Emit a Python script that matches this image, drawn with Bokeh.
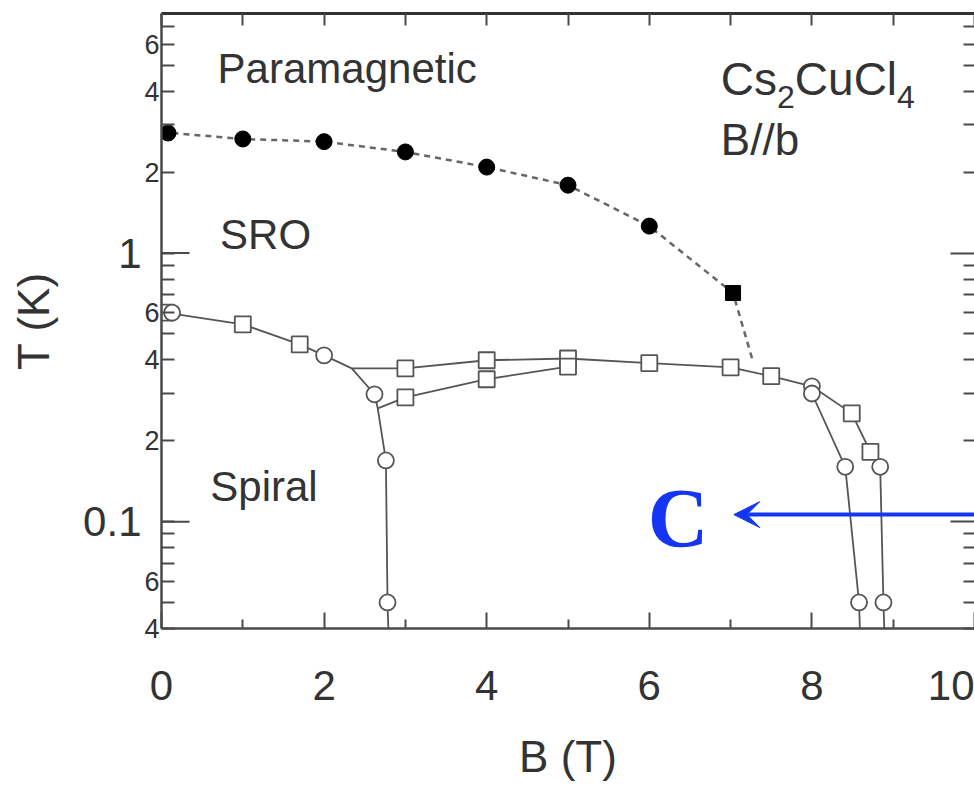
from bokeh.plotting import figure
from bokeh.models import (FixedTicker, LinearAxis, LogAxis, Label,
                          Arrow, VeeHead, Range1d, CustomJSTickFormatter)
from bokeh.embed import file_html
from bokeh.resources import INLINE

# ---------------- data ----------------
# short-range-order crossover (filled circles, filled square) and dotted guide
sro_B = [0.08, 1.0, 2.0, 3.0, 4.0, 5.0, 6.0]
sro_T = [2.80, 2.66, 2.60, 2.38, 2.09, 1.79, 1.26]
sro_sq_B = [7.03]
sro_sq_T = [0.71]
guide_B = [0.0, 1.0, 2.0, 3.0, 4.0, 5.0, 6.0, 7.03, 7.28]
guide_T = [2.82, 2.66, 2.60, 2.38, 2.09, 1.79, 1.26, 0.71, 0.39]

# open squares
sq_B = [0.05, 1.0, 1.70, 3.0, 3.0, 4.0, 4.0, 5.0, 5.0, 6.0, 7.0, 7.5, 8.49, 8.72]
sq_T = [0.60, 0.543, 0.457, 0.372, 0.290, 0.399, 0.339, 0.405, 0.378, 0.389, 0.375, 0.348, 0.253, 0.182]

# open circles
ci_B = [0.13, 2.0, 2.62, 2.76, 2.78, 8.0, 8.0, 8.41, 8.84, 8.58, 8.88]
ci_T = [0.60, 0.416, 0.298, 0.169, 0.050, 0.319, 0.300, 0.160, 0.160, 0.050, 0.050]

# phase-boundary lines
left_B = [0.05, 1.0, 1.70, 2.0, 2.34, 2.62, 2.66, 2.76, 2.78, 2.79]
left_T = [0.60, 0.543, 0.457, 0.416, 0.372, 0.298, 0.264, 0.169, 0.050, 0.04]
upper_B = [2.34, 3.0, 4.0, 5.0, 6.0, 7.0, 7.5, 8.0, 8.49, 8.72, 8.84, 8.88, 8.89]
upper_T = [0.372, 0.372, 0.399, 0.405, 0.389, 0.375, 0.348, 0.319, 0.253, 0.182, 0.160, 0.050, 0.04]
lower_B = [2.66, 3.0, 4.0, 5.0]
lower_T = [0.264, 0.290, 0.339, 0.378]
inner_B = [8.0, 8.41, 8.58, 8.59]
inner_T = [0.300, 0.160, 0.050, 0.04]

# axes
x_lo, x_hi = 0.0, 10.0
y_lo, y_hi = 0.04, 7.8
x_major = [0, 2, 4, 6, 8, 10]
x_minor = [1, 3, 5, 7, 9]
y_decades = [0.1, 1]
y_labeled = [0.04, 0.06, 0.2, 0.4, 0.6, 2, 4, 6]          # labelled with mantissa only
y_unlabeled = [0.05, 0.07, 0.08, 0.09, 0.3, 0.5, 0.7, 0.8, 0.9, 3, 5, 7]
y_minor = sorted(y_labeled + y_unlabeled)

# ---------------- styling ----------------
FONT = "Liberation Sans"
INK = "#333333"
AX = "#4a4a4a"
LINE = "#555555"
BLUE = "#1436f2"
LONG_TICK_B = 0.345   # extra length of decade ticks, in field units (~28 px)

p = figure(width=974, height=789, x_range=Range1d(x_lo, x_hi), y_range=Range1d(y_lo, y_hi),
           y_axis_type="log", output_backend="svg", toolbar_location=None,
           min_border_left=161, min_border_right=0, min_border_top=13, min_border_bottom=161)
p.outline_line_color = None
p.xgrid.grid_line_color = None
p.ygrid.grid_line_color = None
p.background_fill_color = "white"
p.border_fill_color = "white"

# bottom axis
xa = p.xaxis[0]
xa.ticker = FixedTicker(ticks=x_major, minor_ticks=x_minor)
xa.major_tick_in = 16
xa.major_tick_out = 0
xa.minor_tick_in = 9
xa.minor_tick_out = 0
xa.axis_line_width = 2.5
xa.axis_line_color = AX
xa.major_tick_line_color = AX
xa.minor_tick_line_color = AX
xa.major_tick_line_width = 2
xa.minor_tick_line_width = 2
xa.major_label_standoff = 42
xa.major_label_text_font = FONT
xa.major_label_text_font_size = "42px"
xa.major_label_text_color = INK
xa.axis_label = "B (T)"
xa.axis_label_standoff = 29
xa.axis_label_text_font = FONT
xa.axis_label_text_font_size = "44px"
xa.axis_label_text_font_style = "normal"
xa.axis_label_text_color = INK

# inner left axis: line, short ticks, small mantissa labels
ya = p.yaxis[0]
ya.ticker = FixedTicker(ticks=y_labeled, minor_ticks=y_unlabeled + y_decades)
ya.formatter = CustomJSTickFormatter(
    code="const e = Math.floor(Math.log10(tick) + 1e-9); return String(Math.round(tick / Math.pow(10, e)));")
ya.major_tick_in = 13
ya.major_tick_out = 0
ya.minor_tick_in = 13
ya.minor_tick_out = 0
ya.axis_line_width = 2.5
ya.axis_line_color = AX
ya.major_tick_line_color = AX
ya.minor_tick_line_color = AX
ya.major_tick_line_width = 2
ya.minor_tick_line_width = 2
ya.major_label_standoff = 2
ya.major_label_text_font = FONT
ya.major_label_text_font_size = "27px"
ya.major_label_text_color = INK

# outer left axis: decade labels and axis title, no line or ticks
ya2 = LogAxis(ticker=FixedTicker(ticks=y_decades, minor_ticks=[]),
              formatter=CustomJSTickFormatter(code="return String(tick)"),
              axis_line_color=None, major_tick_in=0, major_tick_out=0,
              minor_tick_in=0, minor_tick_out=0,
              major_label_standoff=0, major_label_text_font=FONT,
              major_label_text_font_size="42px", major_label_text_color=INK,
              axis_label="T (K)", axis_label_standoff=22, axis_label_text_font=FONT,
              axis_label_text_font_size="44px", axis_label_text_font_style="normal",
              axis_label_text_color=INK)
p.add_layout(ya2, "left")

# long decade ticks on the left frame edge
p.segment(x0=[x_lo] * len(y_decades), y0=y_decades,
          x1=[x_lo + LONG_TICK_B] * len(y_decades), y1=y_decades,
          line_color=AX, line_width=2)

# top axis (ticks only: no major ticks, so no labels)
top = LinearAxis(ticker=FixedTicker(ticks=[], minor_ticks=x_major + x_minor),
                 major_tick_in=0, major_tick_out=0, minor_tick_in=12, minor_tick_out=0,
                 major_label_standoff=0,
                 axis_line_width=3, axis_line_color="#333333",
                 minor_tick_line_color=AX, minor_tick_line_width=2)
p.add_layout(top, "above")

# right axis (ticks only, frame edge cropped): short ticks, then long decade ticks
right = LogAxis(ticker=FixedTicker(ticks=[], minor_ticks=y_minor),
                major_tick_in=0, major_tick_out=0, minor_tick_in=11, minor_tick_out=0,
                major_label_standoff=0, axis_line_color=None,
                minor_tick_line_color=AX, minor_tick_line_width=2)
p.add_layout(right, "right")
right2 = LogAxis(ticker=FixedTicker(ticks=[], minor_ticks=y_decades),
                 major_tick_in=0, major_tick_out=0, minor_tick_in=24, minor_tick_out=0,
                 major_label_standoff=0, axis_line_color=None,
                 minor_tick_line_color=AX, minor_tick_line_width=2)
p.add_layout(right2, "right")

# ---------------- data marks ----------------
p.line(guide_B, guide_T, line_color="#666666", line_width=2.5, line_dash="6 5")
for bx, ty in [(left_B, left_T), (upper_B, upper_T), (lower_B, lower_T), (inner_B, inner_T)]:
    p.line(bx, ty, line_color=LINE, line_width=1.8)

p.scatter(sro_B, sro_T, marker="circle", size=16, fill_color="black", line_color="black")
p.scatter(sro_sq_B, sro_sq_T, marker="square", size=15, fill_color="black", line_color="black")
p.scatter(sq_B, sq_T, marker="square", size=16, fill_color="white", line_color=LINE, line_width=1.8)
p.scatter(ci_B, ci_T, marker="circle", size=16, fill_color="white", line_color=LINE, line_width=1.8)

# ---------------- region labels ----------------
def region(x, y, t, size="42px"):
    p.add_layout(Label(x=x, y=y, text=t, text_font=FONT, text_font_size=size,
                       text_color=INK, text_align="left", text_baseline="middle"))

region(0.69, 4.86, "Paramagnetic")
region(0.72, 1.17, "SRO")
region(0.60, 0.135, "Spiral")

# Cs2CuCl4 with subscripts
ADV = {"C": 722, "s": 500, "u": 556, "l": 222, "2": 556, "4": 556}
def adv(t, px):
    return sum(ADV[c] for c in t) / 1000.0 * px

BIG, SUB = 46, 32
fx, fy, fy_sub = 6.88, 4.43, 3.81
parts = [("Cs", BIG), ("2", SUB), ("CuCl", BIG), ("4", SUB)]
off = 0.0
for t, sz in parts:
    sub = sz == SUB
    p.add_layout(Label(x=fx, y=fy_sub if sub else fy, x_offset=off, text=t, text_font=FONT,
                       text_font_size=f"{sz}px", text_color=INK, text_align="left",
                       text_baseline="middle"))
    off += adv(t, sz)

region(6.88, 2.65, "B//b", "44px")

# ---------------- blue annotation ----------------
p.add_layout(Arrow(x_start=10.0, y_start=0.1062, x_end=7.04, y_end=0.1062,
                   line_color=BLUE, line_width=4,
                   end=VeeHead(size=26, fill_color=BLUE, line_color=BLUE)))
p.add_layout(Label(x=5.98, y=0.1027, text="C", text_font="Liberation Serif",
                   text_font_style="bold", text_font_size="84px", text_color=BLUE,
                   text_align="left", text_baseline="middle"))

open("out.html", "w").write(file_html(p, INLINE))
